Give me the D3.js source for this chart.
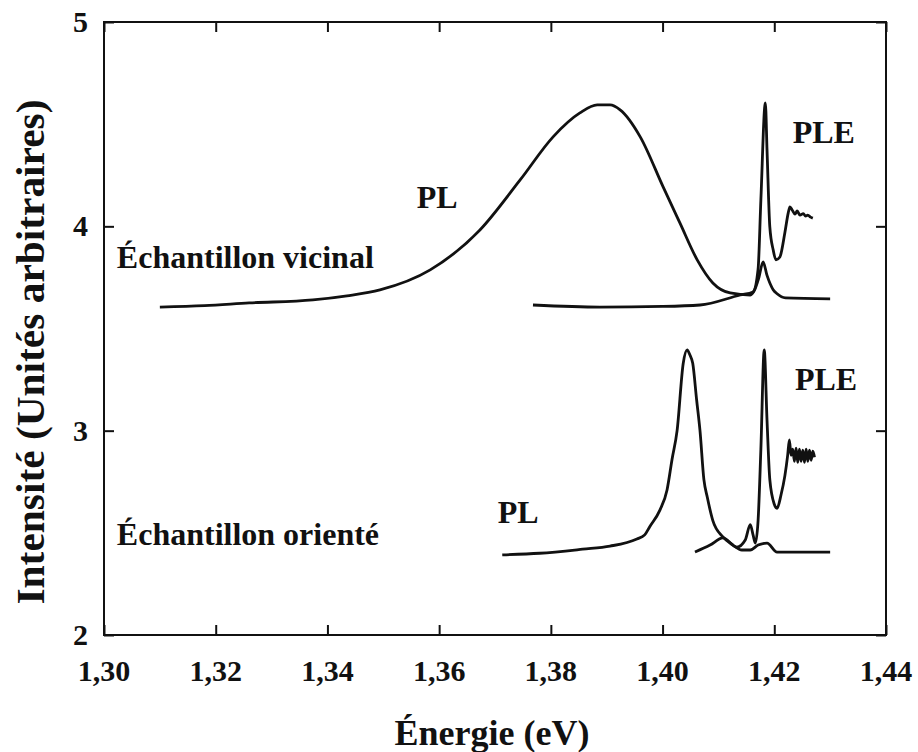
<!DOCTYPE html>
<html>
<head>
<meta charset="utf-8">
<script src="https://cdn.jsdelivr.net/npm/d3@7"></script>
<style>
  body { margin: 0; background: #fff; }
</style>
</head>
<body>
<div id="chart"></div>
<script>
// axes
var xTicks = [1.30, 1.32, 1.34, 1.36, 1.38, 1.40, 1.42, 1.44];
var yTicks = [2, 3, 4, 5];

// echantillon vicinal - PL
var vicPLx = [1.310, 1.318, 1.326, 1.3374, 1.3435, 1.3494, 1.3584, 1.3673, 1.3745, 1.3804, 1.3852, 1.3883, 1.3906,
  1.3924, 1.3960, 1.4001, 1.4031, 1.4062, 1.4090, 1.4121, 1.4157, 1.4165, 1.4172, 1.418, 1.4187, 1.4198, 1.4205, 1.422, 1.430];
var vicPLy = [3.605, 3.612, 3.625, 3.640, 3.660, 3.689, 3.787, 3.982, 4.227, 4.438, 4.555, 4.594, 4.594,
  4.570, 4.438, 4.193, 4.017, 3.836, 3.723, 3.674, 3.664, 3.690, 3.745, 3.826, 3.760, 3.690, 3.670, 3.650, 3.645];

// echantillon vicinal - PLE
var vicPLEx = [1.3768, 1.3888, 1.400, 1.4067, 1.4139, 1.4162, 1.4171, 1.4176, 1.4184, 1.4187, 1.4192, 1.4198, 1.4203,
  1.421, 1.4219, 1.4225, 1.4228, 1.4232, 1.4237, 1.4241, 1.4246, 1.4252, 1.4256, 1.426, 1.4265, 1.4269];
var vicPLEy = [3.615, 3.605, 3.608, 3.615, 3.664, 3.679, 3.790, 4.130, 4.604, 4.374, 3.997, 3.885, 3.836,
  3.850, 3.970, 4.066, 4.095, 4.080, 4.060, 4.075, 4.055, 4.062, 4.050, 4.055, 4.045, 4.040];

// echantillon oriente - PL
var oriPLx = [1.3713, 1.378, 1.3857, 1.3906, 1.3954, 1.3968, 1.3977, 1.3995, 1.4008, 1.4017, 1.4026, 1.4037, 1.4044,
  1.4049, 1.4054, 1.4061, 1.4067, 1.4074, 1.4080, 1.409, 1.4108, 1.4126, 1.4142, 1.4157, 1.4171, 1.4187, 1.4205, 1.4246, 1.430];
var oriPLy = [2.392, 2.400, 2.420, 2.435, 2.470, 2.490, 2.530, 2.610, 2.710, 2.860, 3.000, 3.330, 3.395,
  3.370, 3.330, 3.150, 3.000, 2.760, 2.675, 2.560, 2.480, 2.440, 2.416, 2.416, 2.440, 2.450, 2.406, 2.406, 2.406];

// echantillon oriente - PLE
var oriPLEx = [1.4058, 1.4085, 1.4108, 1.4133, 1.4148, 1.4157, 1.4162, 1.4166, 1.4171, 1.4176, 1.4182, 1.4187, 1.4192,
  1.420, 1.4205, 1.4212, 1.4219, 1.4224, 1.4227, 1.423, 1.4233, 1.4236, 1.4239, 1.4242, 1.4245, 1.4248, 1.4251,
  1.4254, 1.4257, 1.426, 1.4263, 1.4266, 1.4269, 1.4272];
var oriPLEy = [2.406, 2.440, 2.475, 2.430, 2.465, 2.540, 2.490, 2.450, 2.560, 2.910, 3.395, 3.050, 2.760,
  2.640, 2.620, 2.685, 2.780, 2.880, 2.955, 2.880, 2.910, 2.850, 2.915, 2.845, 2.910, 2.850, 2.905, 2.845,
  2.910, 2.850, 2.905, 2.855, 2.900, 2.870];

var noteText = ["PL", "PLE", "Échantillon vicinal", "PL", "PLE", "Échantillon orienté"];
var noteX = [1.3560, 1.4233, 1.3023, 1.3705, 1.4237, 1.3023];
var noteY = [4.09, 4.408, 3.796, 2.548, 3.20, 2.44];

var width = 918, height = 752;
var margin = {top: 22, right: 32, bottom: 117, left: 104};
var serif = "Liberation Serif";

var svg = d3.select("#chart").append("svg")
    .attr("width", width)
    .attr("height", height);

var x = d3.scaleLinear().domain([1.30, 1.44]).range([margin.left, width - margin.right]);
var y = d3.scaleLinear().domain([2, 5]).range([height - margin.bottom, margin.top]);

var fmt = function(d) { return d3.format(".2f")(d).replace(".", ","); };

// cadre
svg.append("rect")
    .attr("x", x(1.30)).attr("y", y(5))
    .attr("width", x(1.44) - x(1.30)).attr("height", y(2) - y(5))
    .attr("fill", "none").attr("stroke", "#111").attr("stroke-width", 2);

// axes (ticks vers l'interieur)
var gx = svg.append("g").attr("transform", "translate(0," + y(2) + ")")
    .call(d3.axisTop(x).tickValues(xTicks).tickSize(10).tickFormat(""));
var gxt = svg.append("g").attr("transform", "translate(0," + y(5) + ")")
    .call(d3.axisBottom(x).tickValues(xTicks).tickSize(10).tickFormat(""));
var gy = svg.append("g").attr("transform", "translate(" + x(1.30) + ",0)")
    .call(d3.axisRight(y).tickValues(yTicks).tickSize(10).tickFormat(""));
var gyr = svg.append("g").attr("transform", "translate(" + x(1.44) + ",0)")
    .call(d3.axisLeft(y).tickValues(yTicks).tickSize(10).tickFormat(""));
[gx, gxt, gy, gyr].forEach(function(g) {
  g.select(".domain").remove();
  g.selectAll("line").attr("stroke", "#111").attr("stroke-width", 2);
});

function txt(sel) {
  return sel.attr("font-family", serif).attr("font-weight", "bold").attr("fill", "#111");
}

svg.selectAll(".xl").data(xTicks).enter().append("text")
    .attr("x", d => x(d)).attr("y", y(2) + 46)
    .attr("text-anchor", "middle").attr("font-size", 30)
    .call(txt)
    .text(fmt);
svg.selectAll(".yl").data(yTicks).enter().append("text")
    .attr("x", x(1.30) - 16).attr("y", d => y(d) + 10)
    .attr("text-anchor", "end").attr("font-size", 30)
    .call(txt)
    .text(d => d);

svg.append("text")
    .attr("x", (x(1.30) + x(1.44)) / 2 - 3).attr("y", 745)
    .attr("text-anchor", "middle").attr("font-size", 36)
    .call(txt)
    .text("Énergie (eV)");
svg.append("text")
    .attr("transform", "translate(44," + 352 + ") rotate(-90)")
    .attr("text-anchor", "middle").attr("font-size", 40)
    .attr("textLength", 505).attr("lengthAdjust", "spacingAndGlyphs")
    .call(txt)
    .text("Intensité (Unités arbitraires)");

// courbes
var line = d3.line()
    .x(d => x(d[0])).y(d => y(d[1]))
    .curve(d3.curveMonotoneX);

var series = [
  d3.zip(vicPLx, vicPLy),
  d3.zip(vicPLEx, vicPLEy),
  d3.zip(oriPLx, oriPLy),
  d3.zip(oriPLEx, oriPLEy)
];

svg.selectAll(".curve").data(series).enter().append("path")
    .attr("class", "curve")
    .attr("d", line)
    .attr("fill", "none")
    .attr("stroke", "#111")
    .attr("stroke-width", 2.8)
    .attr("stroke-linejoin", "round");

svg.selectAll(".note").data(noteText).enter().append("text")
    .attr("x", (d, i) => x(noteX[i])).attr("y", (d, i) => y(noteY[i]))
    .attr("font-size", 32)
    .call(txt)
    .text(d => d);
</script>
</body>
</html>
